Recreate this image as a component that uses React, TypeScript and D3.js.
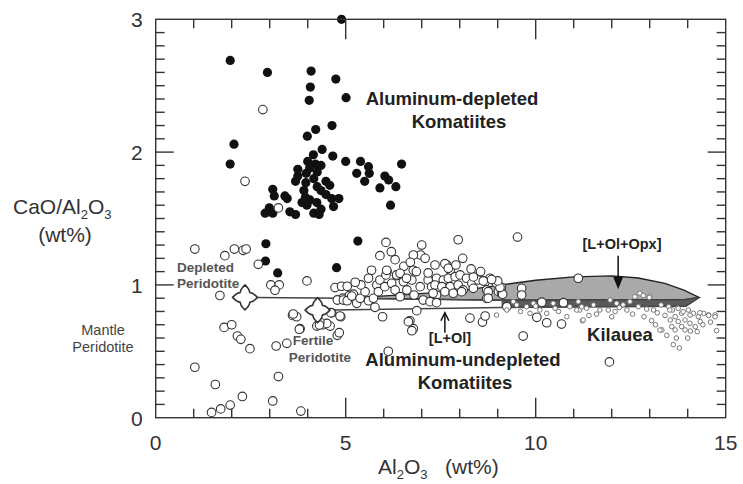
import React, { useEffect, useRef } from 'react'
import * as d3 from 'd3'

// Al2O3 (wt%), CaO/Al2O3
const depletedKomatiites: [number, number][] = [
  [4.89, 3.0], [1.96, 2.69], [2.94, 2.6], [4.09, 2.61], [4.74, 2.55], [4.07, 2.49], [4.04, 2.39],
  [5.01, 2.41], [4.21, 2.17], [3.99, 2.12], [4.64, 2.2], [2.06, 2.06], [1.96, 1.91], [4.38, 2.02],
  [4.15, 1.98], [4.66, 1.97], [5.0, 1.93], [5.39, 1.93], [5.6, 1.89], [6.47, 1.91], [4.0, 1.93],
  [4.2, 1.91], [4.35, 1.9], [5.29, 1.84], [5.62, 1.84], [5.5, 1.78], [6.03, 1.82], [6.13, 1.79],
  [5.9, 1.73], [6.32, 1.74], [6.18, 1.6], [3.74, 1.87], [3.74, 1.82], [3.68, 1.78], [3.96, 1.84],
  [4.16, 1.8], [3.95, 1.77], [4.48, 1.78], [4.58, 1.75], [4.25, 1.74], [4.35, 1.71], [4.48, 1.68],
  [4.63, 1.65], [3.9, 1.71], [3.46, 1.65], [3.08, 1.72], [3.12, 1.67], [4.82, 1.65], [4.68, 1.59],
  [4.06, 1.64], [3.85, 1.62], [3.98, 1.6], [4.24, 1.62], [4.35, 1.57], [2.99, 1.58], [2.88, 1.54],
  [3.08, 1.54], [3.68, 1.53], [4.16, 1.54], [3.53, 1.55], [3.94, 1.66], [4.3, 1.53], [2.9, 1.31],
  [2.89, 1.18], [3.21, 1.09], [5.32, 1.33], [4.76, 1.13], [3.4, 1.67], [4.05, 1.88], [4.25, 1.85]
]

const undepletedKomatiites: [number, number][] = [
  [2.82, 2.32], [2.35, 1.78], [3.23, 1.58], [1.03, 1.27], [1.82, 1.22], [2.07, 1.27], [2.3, 1.26],
  [2.38, 1.27], [2.7, 1.155], [3.98, 1.03], [1.69, 0.92], [3.03, 1.0], [3.25, 1.0], [3.14, 0.96],
  [1.8, 0.68], [2.0, 0.7], [2.15, 0.615], [2.24, 0.59], [2.48, 0.52], [3.17, 0.54], [3.45, 0.56],
  [3.6, 0.77], [3.71, 0.76], [3.8, 0.67], [1.03, 0.38], [1.57, 0.25], [2.28, 0.16], [1.96, 0.095],
  [1.71, 0.066], [1.47, 0.04], [3.08, 0.126], [3.23, 0.31], [3.82, 0.05], [4.24, 0.69], [4.41, 0.7],
  [4.59, 0.69], [4.5, 0.71], [4.32, 0.72], [4.78, 0.62], [4.63, 0.79], [4.87, 0.76], [3.62, 0.781],
  [3.78, 0.666], [4.31, 0.698], [4.83, 0.64], [5.97, 0.76], [6.69, 0.73], [6.78, 0.67], [6.12, 0.5],
  [6.65, 0.723], [6.74, 0.655], [6.87, 0.806], [5.77, 0.831], [4.61, 0.791], [4.85, 0.766],
  [4.72, 0.98], [4.89, 0.99], [5.04, 0.99], [4.8, 0.89], [4.93, 0.9], [5.1, 0.92], [5.2, 0.93],
  [5.68, 1.11], [6.09, 1.1], [6.34, 1.07], [6.53, 1.14], [6.78, 1.11], [7.0, 1.3], [6.97, 1.225],
  [6.78, 1.225], [6.06, 1.32], [4.78, 0.886], [4.94, 0.886], [5.04, 0.881], [5.16, 0.916],
  [5.29, 0.861], [5.38, 0.899], [5.51, 0.949], [5.6, 0.881], [5.73, 0.899], [5.82, 0.999],
  [5.86, 0.949], [5.9, 1.037], [6.03, 0.987], [6.06, 1.075], [6.21, 1.012], [6.34, 1.075],
  [6.3, 0.962], [6.43, 0.911], [6.52, 1.024], [6.61, 0.962], [6.74, 1.037], [6.8, 0.924],
  [6.96, 0.987], [7.04, 0.886], [7.17, 1.037], [7.26, 0.987], [7.39, 0.924], [7.44, 1.037],
  [6.08, 1.11], [6.43, 1.087], [6.86, 1.1], [7.17, 1.09], [6.7, 1.17], [7.09, 1.2], [7.35, 1.15],
  [6.3, 1.19], [7.66, 1.15], [7.75, 1.11], [7.39, 1.05], [7.57, 1.037], [7.7, 1.05], [7.88, 1.062],
  [8.01, 1.075], [8.18, 1.05], [8.32, 1.012], [8.49, 1.037], [8.67, 1.024], [8.8, 1.05],
  [8.97, 1.012], [7.35, 0.999], [7.53, 0.987], [7.75, 0.987], [7.96, 0.999], [8.09, 0.962],
  [8.36, 0.974], [8.71, 0.962], [9.02, 0.949], [9.1, 0.982], [7.3, 0.937], [7.61, 0.949],
  [7.83, 0.937], [8.05, 0.949], [8.71, 0.899], [8.75, 0.949], [9.1, 0.937], [9.63, 0.974],
  [9.63, 0.924], [7.22, 0.874], [7.39, 0.866], [9.24, 0.836], [8.27, 0.75], [8.6, 0.72],
  [8.67, 0.766], [10.03, 0.756], [10.29, 0.715], [10.68, 0.705], [10.73, 0.866], [10.16, 0.87],
  [11.12, 1.05], [9.67, 0.615], [8.08, 1.2], [7.96, 1.34], [9.52, 1.36], [7.61, 1.16], [7.7, 1.125],
  [11.94, 0.42], [8.75, 0.9], [9.13, 0.93], [9.06, 0.98], [9.0, 1.03], [8.84, 1.04], [8.62, 1.03],
  [8.36, 1.06], [5.4, 1.0], [5.6, 1.05], [5.25, 1.02], [6.6, 1.05], [7.9, 1.15], [8.3, 1.12],
  [8.55, 1.1], [5.9, 1.22], [6.2, 1.25]
]

const kilauea: [number, number][] = [
  [12.74, 0.937], [13.0, 0.916], [12.61, 0.911], [12.48, 0.874], [11.96, 0.886], [12.13, 0.861],
  [12.3, 0.85], [11.52, 0.849], [11.34, 0.824], [11.69, 0.811], [11.91, 0.811], [12.09, 0.799],
  [12.4, 0.811], [12.7, 0.836], [12.92, 0.818], [13.1, 0.811], [13.3, 0.849], [13.5, 0.836],
  [13.6, 0.811], [13.75, 0.824], [13.84, 0.786], [14.02, 0.811], [14.15, 0.786], [14.28, 0.761],
  [13.67, 0.761], [13.54, 0.736], [13.75, 0.724], [13.93, 0.736], [14.06, 0.711], [13.84, 0.686],
  [13.58, 0.686], [13.67, 0.661], [13.93, 0.661], [14.07, 0.653], [14.25, 0.648], [13.32, 0.661],
  [13.05, 0.731], [14.55, 0.774], [14.72, 0.774], [14.76, 0.656], [11.23, 0.73], [11.4, 0.77],
  [11.16, 0.811], [14.42, 0.786], [14.33, 0.724], [14.2, 0.686], [13.62, 0.55], [13.78, 0.525],
  [12.83, 0.92], [12.99, 0.906], [13.27, 0.66], [14.72, 0.76], [14.55, 0.77], [14.32, 0.79],
  [13.53, 0.811], [13.88, 0.798], [14.06, 0.773], [8.97, 0.773], [9.41, 0.874], [9.76, 0.836],
  [9.85, 0.786], [10.11, 0.811], [10.29, 0.786], [10.46, 0.861], [10.51, 0.824], [10.9, 0.836],
  [11.08, 0.811], [11.25, 0.736], [10.82, 0.761], [9.5, 0.849], [9.24, 0.811], [9.94, 0.861],
  [11.21, 0.836], [11.12, 0.874], [12.2, 0.83], [12.55, 0.78], [12.85, 0.76], [13.2, 0.79],
  [13.4, 0.77], [13.15, 0.7], [13.45, 0.62], [13.7, 0.6], [14.0, 0.6], [14.4, 0.7], [14.6, 0.72],
  [10.0, 0.84], [10.6, 0.8], [11.6, 0.78], [12.0, 0.76], [9.6, 0.8]
]

// melting trends from the two peridotite sources
const peridotites = [
  { name: 'Depleted', x: 2.35, y: 0.906 },
  { name: 'Fertile', x: 4.26, y: 0.81 }
]
const depletedTrend: [number, number][] = [[2.35, 0.906], [5.0, 0.9], [9.1, 0.885], [13.9, 0.888], [14.3, 0.905]]
const fertileTrend: [number, number][] = [[4.26, 0.81], [9.1, 0.83], [13.95, 0.84], [14.3, 0.905]]
// [L+Ol+Opx] field
const opxField: [number, number][] = [
  [5.0, 0.9], [6.5, 0.925], [8.0, 0.955], [9.1, 1.0], [10.0, 1.035], [11.0, 1.06], [12.0, 1.068],
  [12.7, 1.052], [13.4, 1.012], [13.9, 0.96], [14.3, 0.905], [13.9, 0.888], [9.1, 0.885], [5.0, 0.9]
]
const darkBand: [number, number][] = [[9.1, 0.878], [13.9, 0.885], [14.3, 0.905], [13.95, 0.84], [9.1, 0.83]]

const xTicks = [0, 5, 10, 15]
const yTicks = [0, 1, 2, 3]

const W = 743
const H = 484
const FONT = '"Liberation Sans", Arial, Helvetica, sans-serif'

// puffy four-pointed star, drawn one quadrant at a time
function starPath(R: number, w: number) {
  const rot = (px: number, py: number, k: number) => {
    const c = [[1, 0], [0, 1], [-1, 0], [0, -1]][k]
    return `${px * c[0] - py * c[1]},${px * c[1] + py * c[0]}`
  }
  let d = `M${rot(0, -R, 0)}`
  for (let k = 0; k < 4; k++) {
    d += `C${rot(2, -R + 2, k)} ${rot(w, -R + 5, k)} ${rot(w, -w - 1.5, k)}`
    d += `Q${rot(w, -w, k)} ${rot(w + 1.5, -w, k)}`
    d += `C${rot(R - 5, -w, k)} ${rot(R - 2, -2, k)} ${rot(R, 0, k)}`
  }
  return d + 'Z'
}

function App() {
  const ref = useRef<SVGGElement>(null)

  useEffect(() => {
    const root = d3.select(ref.current)
    root.selectAll('*').remove()

    const left = 155.7, right = 725.7, top = 19.3, bottom = 417.7
    const x = d3.scaleLinear().domain([0, 15]).range([left, right])
    const y = d3.scaleLinear().domain([0, 3]).range([bottom, top])
    const line = d3.line<[number, number]>().x(d => x(d[0])).y(d => y(d[1]))

    const g = root.append('g')

    // fields
    g.append('path').attr('d', line(opxField)).attr('fill', '#a9a9a9')
      .attr('stroke', '#222').attr('stroke-width', 1.3)
    g.append('path').attr('d', line(darkBand)).attr('fill', '#5a5a5a')

    g.append('path').attr('d', line(depletedTrend)).attr('fill', 'none')
      .attr('stroke', '#444').attr('stroke-width', 1.5)
    g.append('path').attr('d', line(fertileTrend)).attr('fill', 'none')
      .attr('stroke', '#444').attr('stroke-width', 1.5)

    // komatiites
    g.selectAll('.filled').data(depletedKomatiites).enter().append('circle')
      .attr('cx', d => x(d[0])).attr('cy', d => y(d[1])).attr('r', 4.6)
      .attr('fill', '#111')

    g.selectAll('.open').data(undepletedKomatiites).enter().append('circle')
      .attr('cx', d => x(d[0])).attr('cy', d => y(d[1])).attr('r', 4.3)
      .attr('fill', '#fff').attr('stroke', '#333').attr('stroke-width', 1.1)

    g.selectAll('.kil').data(kilauea).enter().append('circle')
      .attr('cx', d => x(d[0])).attr('cy', d => y(d[1])).attr('r', 2.3)
      .attr('fill', '#fff').attr('stroke', '#777').attr('stroke-width', 1)

    // peridotite stars
    g.selectAll('.star').data(peridotites).enter().append('path')
      .attr('transform', d => `translate(${x(d.x)},${y(d.y)})`)
      .attr('d', starPath(12.5, 4.5)).attr('fill', '#fff').attr('stroke', '#333').attr('stroke-width', 1.6)
      .attr('stroke-linejoin', 'round')

    // frame and ticks
    const axis = root.append('g').attr('stroke', '#333').attr('stroke-width', 1.4)
    axis.append('rect').attr('x', left).attr('y', top).attr('width', right - left)
      .attr('height', bottom - top).attr('fill', 'none')

    d3.range(1, 15).forEach(v => {
      const len = v % 5 === 0 ? 20 : 9
      axis.append('line').attr('x1', x(v)).attr('x2', x(v)).attr('y1', bottom).attr('y2', bottom - len)
      axis.append('line').attr('x1', x(v)).attr('x2', x(v)).attr('y1', top).attr('y2', top + len)
    })
    d3.range(1, 30).forEach(i => {
      const v = i / 10
      const len = i % 10 === 0 ? 18 : 9
      axis.append('line').attr('x1', left).attr('x2', left + len).attr('y1', y(v)).attr('y2', y(v))
      axis.append('line').attr('x1', right).attr('x2', right - len).attr('y1', y(v)).attr('y2', y(v))
    })

    const labels = root.append('g').attr('font-family', FONT).attr('fill', '#333').attr('font-size', 21)
    labels.selectAll('.xt').data(xTicks).enter().append('text')
      .attr('x', d => x(d)).attr('y', bottom + 32).attr('text-anchor', 'middle').text(d => d)
    labels.selectAll('.yt').data(yTicks).enter().append('text')
      .attr('x', left - 13).attr('y', d => y(d) + 8).attr('text-anchor', 'end').text(d => d)

    // arrows
    const arrows = root.append('g').attr('stroke', '#111').attr('stroke-width', 1.5).attr('fill', '#111')
    arrows.append('line').attr('x1', x(12.17)).attr('x2', x(12.17)).attr('y1', y(1.22)).attr('y2', y(0.99))
    arrows.append('path')
      .attr('d', `M${x(12.17) - 4},${y(0.99) - 9}L${x(12.17)},${y(0.99) + 1}L${x(12.17) + 4},${y(0.99) - 9}Z`)
    arrows.append('line').attr('x1', x(7.61)).attr('x2', x(7.61)).attr('y1', y(0.64)).attr('y2', y(0.79))
    arrows.append('path').attr('fill', 'none')
      .attr('d', `M${x(7.61) - 4},${y(0.79) + 8}L${x(7.61)},${y(0.79)}L${x(7.61) + 4},${y(0.79) + 8}`)
  }, [])

  return (
    <svg width={W} height={H} style={{ position: 'absolute', left: 0, top: 0, background: '#fff' }}>
      <g ref={ref} />
      <g fontFamily={FONT}>
        <text x={13} y={214} fontSize={21} fill="#333">
          CaO/Al<tspan dy={5} fontSize={13}>2</tspan><tspan dy={-5}>O</tspan><tspan dy={5} fontSize={13}>3</tspan>
        </text>
        <text x={65} y={242} fontSize={21} fill="#333" textAnchor="middle">(wt%)</text>
        <text x={378} y={474} fontSize={21} fill="#333">
          Al<tspan dy={5} fontSize={13}>2</tspan><tspan dy={-5}>O</tspan><tspan dy={5} fontSize={13}>3</tspan><tspan dy={-5}>{'\u00a0\u00a0\u00a0(wt%)'}</tspan>
        </text>

        <text x={103} y={335} fontSize={14.5} fill="#444" textAnchor="middle">Mantle</text>
        <text x={103} y={352} fontSize={14.5} fill="#444" textAnchor="middle">Peridotite</text>

        <g fontWeight="bold" fill="#222">
          <text x={452} y={105} fontSize={18.5} textAnchor="middle">Aluminum-depleted</text>
          <text x={459} y={128} fontSize={18.5} textAnchor="middle">Komatiites</text>
          <text x={463} y={366} fontSize={18.5} textAnchor="middle">Aluminum-undepleted</text>
          <text x={465} y={389} fontSize={18.5} textAnchor="middle">Komatiites</text>
          <text x={620} y={341} fontSize={18.5} textAnchor="middle">Kilauea</text>
          <text x={622} y={249} fontSize={14.5} textAnchor="middle">[L+Ol+Opx]</text>
          <text x={450} y={343} fontSize={14.5} textAnchor="middle">[L+Ol]</text>
        </g>
        <g fontWeight="bold" fill="#555" fontSize={13.5}>
          <text x={177} y={272}>Depleted</text>
          <text x={177} y={288}>Peridotite</text>
          <text x={313} y={345} textAnchor="middle">Fertile</text>
          <text x={320} y={362} textAnchor="middle">Peridotite</text>
        </g>
      </g>
    </svg>
  )
}

export default App
